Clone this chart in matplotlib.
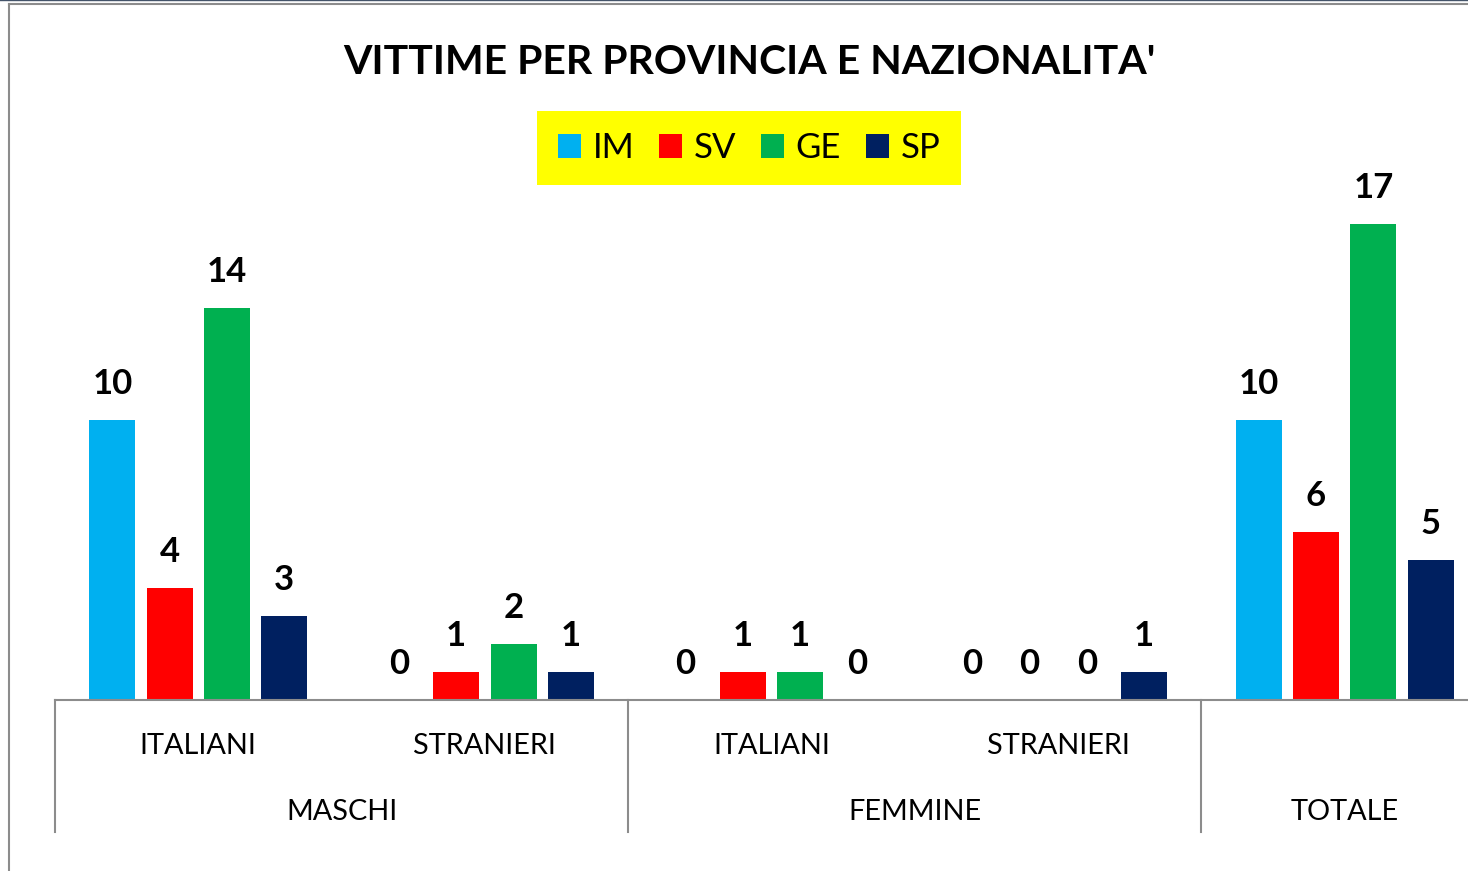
import matplotlib.pyplot as plt
import matplotlib.transforms as mtransforms
from matplotlib.patches import Patch
from matplotlib.lines import Line2D

# data
groups = ["MASCHI", "FEMMINE", "TOTALE"]
subgroups = ["ITALIANI", "STRANIERI", "ITALIANI", "STRANIERI", ""]
provinces = ["IM", "SV", "GE", "SP"]
im = [10, 0, 0, 0, 10]
sv = [4, 1, 1, 0, 6]
ge = [14, 2, 1, 0, 17]
sp = [3, 1, 0, 1, 5]
colors = ["#00B0F0", "#FF0000", "#00B050", "#002060"]

plt.rcParams["font.family"] = ["Lato", "DejaVu Sans"]

W, H = 1468, 871
fig = plt.figure(figsize=(W / 100, H / 100), dpi=100)

# axes: baseline at y=700px, 17 units = 476px, groups 286.6px wide from x=55
gw = 286.6
ax = fig.add_axes([55 / W, (H - 700) / H, (W - 55) / W, 476 / H])
ax.set_xlim(-0.5, -0.5 + (W - 55) / gw)
ax.set_ylim(0, 17)

step = 57.3 / gw
bw = 46 / gw
for i, (vals, col) in enumerate(zip([im, sv, ge, sp], colors)):
    xs = [g + (i - 1.5) * step for g in range(len(vals))]
    ax.bar(xs, vals, width=bw, color=col, zorder=2)
    for x, v in zip(xs, vals):
        ax.annotate(str(v), (x, v), xytext=(0, 18.7), textcoords="offset points",
                    ha="center", va="baseline", fontsize=25, fontweight="bold",
                    annotation_clip=False)

for s in ["top", "right", "left"]:
    ax.spines[s].set_visible(False)
ax.spines["bottom"].set_color("#8c8c8c")
ax.spines["bottom"].set_linewidth(1.5)
ax.set_xticks([])
ax.set_yticks([])

# two-level category axis
tr = mtransforms.blended_transform_factory(ax.transData, fig.transFigure)
for g, lab in enumerate(subgroups):
    if lab:
        ax.text(g, 1 - 746 / H, lab, transform=tr, ha="center", va="center", fontsize=20.8)
outer_x = [0.5, 2.5, 4.0]
for x, lab in zip(outer_x, groups):
    ax.text(x, 1 - 812 / H, lab, transform=tr, ha="center", va="center", fontsize=20.8)
for x in [-0.5, 1.5, 3.5]:
    ax.plot([x, x], [1 - 700 / H, 1 - 832 / H], transform=tr, color="#8c8c8c",
            lw=1.5, clip_on=False)

# title
fig.text(749 / W, 1 - 62 / H, "VITTIME PER PROVINCIA E NAZIONALITA'", ha="center",
         va="center", fontsize=29.5, fontweight="bold")

# legend
handles = [Patch(facecolor=c, edgecolor="none") for c in colors]
leg = fig.legend(handles, provinces, loc="center", bbox_to_anchor=(749 / W, 1 - 148 / H),
                 ncol=4, fontsize=25, frameon=True, fancybox=False,
                 handlelength=0.66, handleheight=0.66, handletextpad=0.34,
                 columnspacing=0.71, borderpad=0.6, borderaxespad=0)
leg.get_frame().set_facecolor("#FFFF00")
leg.get_frame().set_edgecolor("none")
leg.get_frame().set_alpha(1)

# chart frame
fig.add_artist(Line2D([9 / W, 9 / W], [0, 1 - 4 / H], transform=fig.transFigure,
                      color="#8c8c8c", lw=1.5))
fig.add_artist(Line2D([9 / W, 1], [1 - 4 / H, 1 - 4 / H], transform=fig.transFigure,
                      color="#8c8c8c", lw=1.5))
fig.add_artist(Line2D([0, 1], [1 - 0.5 / H, 1 - 0.5 / H], transform=fig.transFigure,
                      color="#44546A", lw=1))

fig.savefig("out.png", dpi=100)
